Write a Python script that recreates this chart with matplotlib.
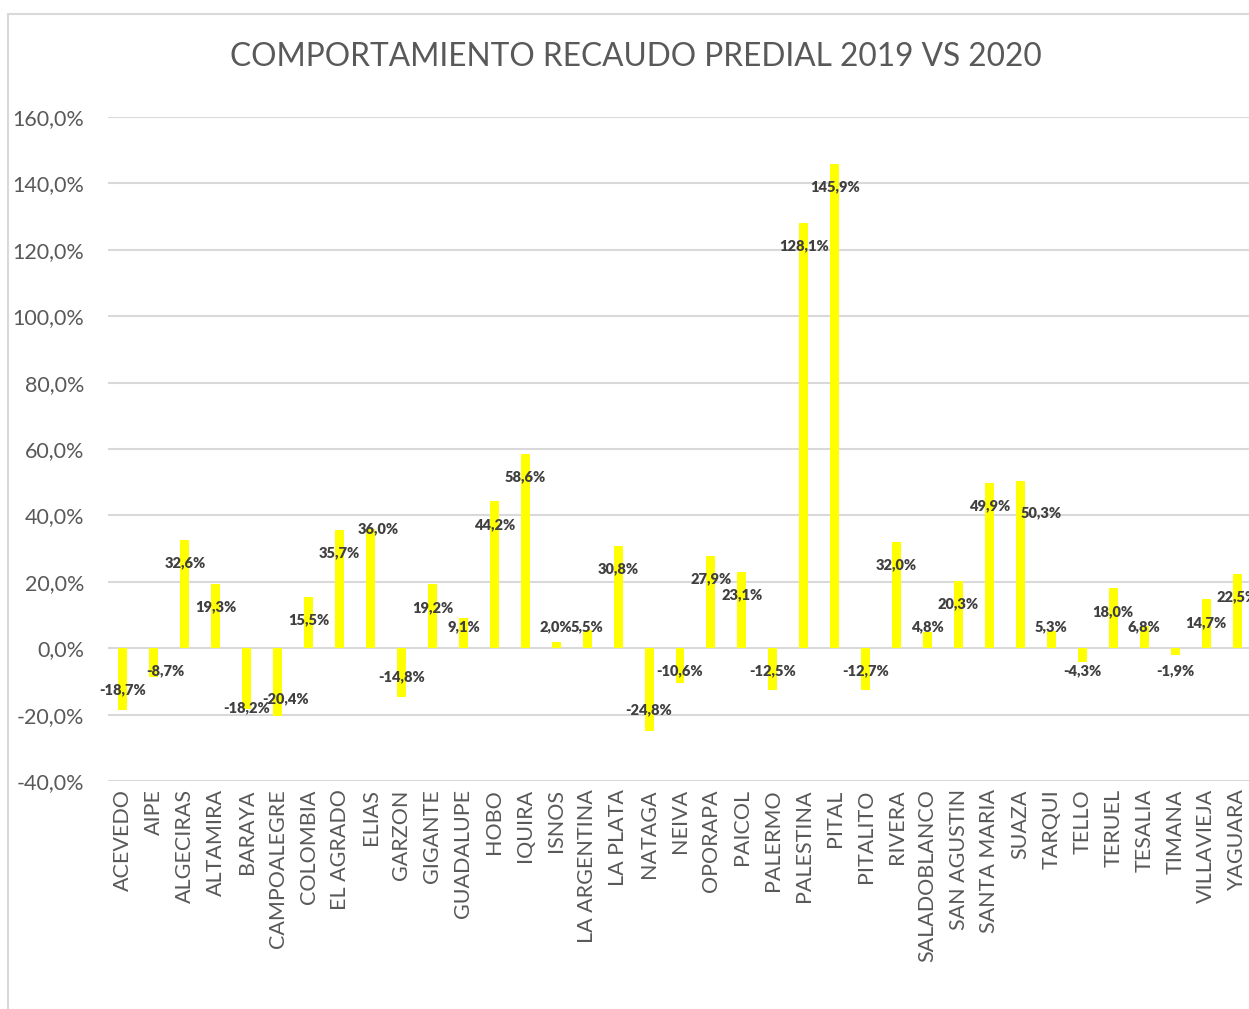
import matplotlib.pyplot as plt
from matplotlib.patches import Rectangle

# datos
municipios = ['ACEVEDO', 'AIPE', 'ALGECIRAS', 'ALTAMIRA', 'BARAYA', 'CAMPOALEGRE',
              'COLOMBIA', 'EL AGRADO', 'ELIAS', 'GARZON', 'GIGANTE', 'GUADALUPE',
              'HOBO', 'IQUIRA', 'ISNOS', 'LA ARGENTINA', 'LA PLATA', 'NATAGA',
              'NEIVA', 'OPORAPA', 'PAICOL', 'PALERMO', 'PALESTINA', 'PITAL',
              'PITALITO', 'RIVERA', 'SALADOBLANCO', 'SAN AGUSTIN', 'SANTA MARIA',
              'SUAZA', 'TARQUI', 'TELLO', 'TERUEL', 'TESALIA', 'TIMANA',
              'VILLAVIEJA', 'YAGUARA']
variacion = [-18.7, -8.7, 32.6, 19.3, -18.2, -20.4, 15.5, 35.7, 36.0, -14.8,
             19.2, 9.1, 44.2, 58.6, 2.0, 5.5, 30.8, -24.8, -10.6, 27.9, 23.1,
             -12.5, 128.1, 145.9, -12.7, 32.0, 4.8, 20.3, 49.9, 50.3, 5.3, -4.3,
             18.0, 6.8, -1.9, 14.7, 22.5]
ticks_y = [-40, -20, 0, 20, 40, 60, 80, 100, 120, 140, 160]

# ajustes manuales de etiquetas (pixeles)
nudge = {'AIPE': (11, 0), 'CAMPOALEGRE': (8, -4), 'BARAYA': (0, -20),
         'ELIAS': (8, 23), 'SUAZA': (21, -9)}

plt.rcParams['font.family'] = ['Lato', 'DejaVu Sans']
gris = '#595959'

fig = plt.figure(figsize=(12.49, 10.09), dpi=100)
fig.patches.append(Rectangle((8 / 1249, -0.1), 1.2, 1.1 - 14 / 1009,
                             transform=fig.transFigure, fill=False,
                             edgecolor='#d9d9d9', linewidth=1.5))
ax = fig.add_axes([107.5 / 1249, 1 - 781 / 1009, 1145 / 1249, 664 / 1009])

x = range(len(municipios))
ax.bar(x, variacion, width=0.29, color='#ffff00', zorder=3)

ax.set_xlim(-0.5, len(municipios) - 0.5)
ax.set_ylim(-40, 160)
ax.set_yticks(ticks_y)
ax.set_yticklabels([('%.1f%%' % t).replace('.', ',') for t in ticks_y])
ax.set_xticks(list(x))
ax.set_xticklabels(municipios, rotation=90, va='top')
ax.tick_params(axis='y', length=0, pad=17, labelsize=15.5, labelcolor=gris)
ax.tick_params(axis='x', length=0, pad=6, labelsize=15.5, labelcolor=gris)
ax.grid(axis='y', color='#d9d9d9', linewidth=1.5, zorder=0)
for s in ax.spines.values():
    s.set_visible(False)

# etiquetas de datos: dentro del extremo, sin cruzar el cero
ppu = 664 / 200.0
for i, v in enumerate(variacion):
    if v >= 0:
        ly = max(v - 23 / ppu, 21 / ppu)
    else:
        ly = min(v + 21 / ppu, -23 / ppu)
    dx, dy = nudge.get(municipios[i], (0, 0))
    ax.annotate(('%.1f%%' % v).replace('.', ','), (i, ly),
                xytext=(dx, dy), textcoords='offset pixels',
                ha='center', va='center', fontsize=10.5, fontweight='heavy',
                color='#404040', zorder=4, annotation_clip=False)

fig.text(636 / 1249, 1 - 57 / 1009, 'COMPORTAMIENTO RECAUDO PREDIAL 2019 VS 2020',
         ha='center', va='center', fontsize=22.8, color=gris)

fig.savefig('out.png', dpi=100)
